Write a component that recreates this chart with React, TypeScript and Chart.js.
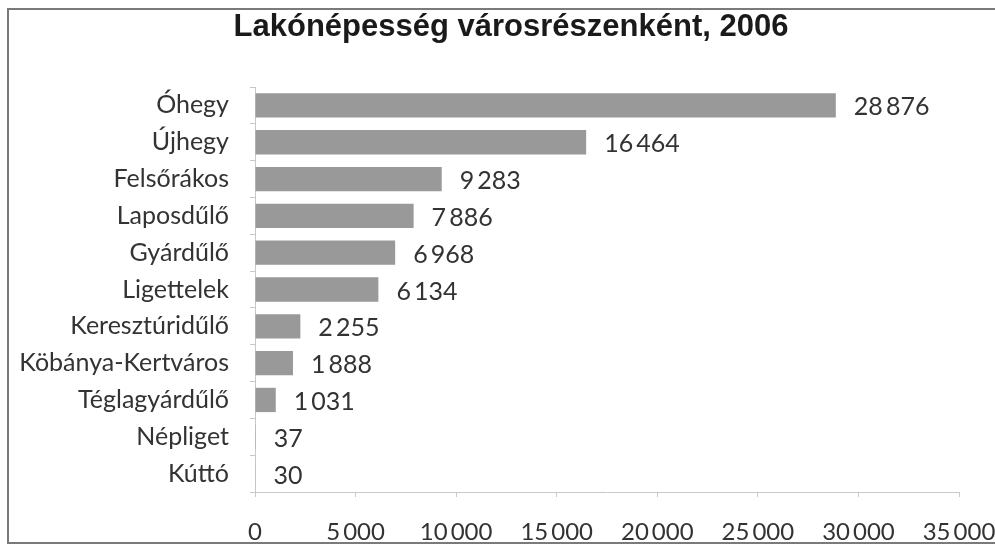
import React, { useEffect, useRef } from "react";
import { Chart, registerables } from "chart.js";

Chart.register(...registerables);

const TITLE = "Lakónépesség városrészenként, 2006";
const categories = [
  "Óhegy",
  "Újhegy",
  "Felsőrákos",
  "Laposdűlő",
  "Gyárdűlő",
  "Ligettelek",
  "Keresztúridűlő",
  "Köbánya-Kertváros",
  "Téglagyárdűlő",
  "Népliget",
  "Kúttó",
];
const population = [28876, 16464, 9283, 7886, 6968, 6134, 2255, 1888, 1031, 37, 30];
const xTicks = [0, 5000, 10000, 15000, 20000, 25000, 30000, 35000];

const fmt = (n: number) => String(n).replace(/\B(?=(\d{3})+(?!\d))/g, "\u2009");

const FONT = "Lato, 'Noto Sans', sans-serif";

const titlePlugin = {
  id: "customTitle",
  afterDraw(chart: any) {
    const ctx = chart.ctx;
    ctx.save();
    ctx.font = "bold 31px 'Liberation Sans', Arial, sans-serif";
    ctx.fillStyle = "#1a1a1a";
    ctx.textAlign = "center";
    ctx.textBaseline = "alphabetic";
    ctx.fillText(TITLE, 511, 36);
    ctx.restore();
  },
};

const valueLabels = {
  id: "valueLabels",
  afterDatasetsDraw(chart: any) {
    const ctx = chart.ctx;
    const meta = chart.getDatasetMeta(0);
    ctx.save();
    ctx.font = "25px " + FONT;
    ctx.fillStyle = "#333333";
    ctx.textAlign = "left";
    ctx.textBaseline = "middle";
    meta.data.forEach((bar: any, i: number) => {
      ctx.fillText(fmt(population[i]), bar.x + 18, bar.y + 2);
    });
    ctx.restore();
  },
};

export default function App() {
  const ref = useRef<HTMLCanvasElement>(null);
  useEffect(() => {
    if (!ref.current) return;
    const chart = new Chart(ref.current, {
      type: "bar",
      data: {
        labels: categories,
        datasets: [
          {
            data: population,
            backgroundColor: "#999999",
            borderWidth: 0,
            barPercentage: 0.66,
            categoryPercentage: 1,
          },
        ],
      },
      options: {
        indexAxis: "y",
        responsive: false,
        animation: false,
        layout: { padding: { top: 87, right: 36, left: 0, bottom: 0 } },
        plugins: {
          legend: { display: false },
          title: { display: false },
          tooltip: { enabled: false },
        },
        scales: {
          x: {
            min: 0,
            max: 35000,
            afterFit: (s: any) => {
              s.height = 56;
              s.paddingLeft = 0;
              s.paddingRight = 0;
            },
            afterBuildTicks: (s: any) => {
              s.ticks = xTicks.map((v) => ({ value: v }));
            },
            ticks: {
              callback: (v: any) => fmt(Number(v)),
              font: { family: FONT, size: 24 },
              color: "#333333",
              padding: 21,
              maxRotation: 0,
              autoSkip: false,
            },
            grid: {
              drawOnChartArea: false,
              drawTicks: true,
              tickLength: 5,
              color: "#c8c8c8",
            },
            border: { color: "#c8c8c8" },
          },
          y: {
            afterFit: (s: any) => {
              s.width = 255;
              s.paddingTop = 0;
              s.paddingBottom = 0;
            },
            ticks: {
              font: { family: FONT, size: 25 },
              color: "#333333",
              padding: 21,
              autoSkip: false,
            },
            grid: {
              drawOnChartArea: false,
              drawTicks: true,
              tickLength: 5,
              color: "#c8c8c8",
              offset: true,
            },
            border: { color: "#c8c8c8" },
          },
        },
      },
      plugins: [titlePlugin, valueLabels],
    });
    return () => chart.destroy();
  }, []);

  return (
    <div style={{ position: "absolute", left: 0, top: 0, width: 995, height: 548, background: "#fff" }}>
      <div
        style={{
          position: "absolute",
          left: 7,
          top: 8,
          width: 995,
          height: 536,
          borderLeft: "2px solid #7a7a7a",
          borderTop: "2px solid #7a7a7a",
          borderBottom: "2px solid #7a7a7a",
          boxSizing: "border-box",
        }}
      />
      <canvas ref={ref} width={995} height={548} style={{ position: "absolute", left: 0, top: 0, width: 995, height: 548 }} />
    </div>
  );
}
